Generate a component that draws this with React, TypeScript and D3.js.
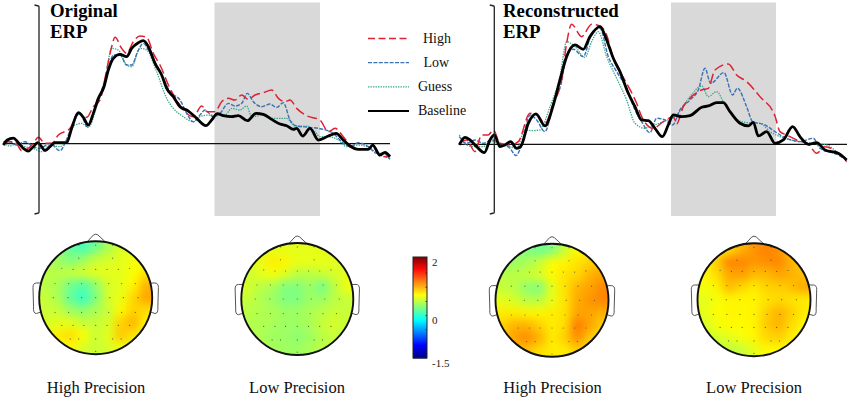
import React from "react";
import * as d3 from "d3";

type P = [number, number];

const originalBaseline: P[] = [[-107,-4],[-95,11],[-77,17],[-62,3],[-47,-14],[-32,-22],[-17,-9],[-4,3],[8,-9],[18,-21],[33,-9],[48,3],[68,3],[83,3],[98,46],[118,93],[133,79],[148,56],[163,91],[178,136],[195,171],[208,221],[223,256],[243,268],[263,261],[278,286],[298,303],[313,309],[328,291],[348,241],[368,206],[383,166],[403,141],[423,111],[448,98],[473,76],[501,54],[518,71],[535,90],[553,84],[578,81],[598,84],[625,69],[651,91],[673,88],[698,73],[723,59],[743,54],[763,43],[773,46],[791,23],[813,46],[838,11],[868,23],[891,31],[913,11],[933,-7],[958,-17],[988,-17],[1001,-4],[1023,-34],[1038,-26],[1053,-39]];
const originalHigh: P[] = [[-107,-4],[-92,6],[-72,6],[-52,-21],[-32,-14],[-17,1],[-2,19],[18,1],[38,1],[58,26],[93,46],[118,91],[143,79],[163,111],[183,131],[203,221],[218,291],[228,319],[248,286],[263,271],[283,306],[303,323],[323,319],[343,271],[363,236],[393,166],[413,131],[438,96],[463,81],[488,113],[505,96],[528,96],[548,126],[568,136],[588,131],[608,146],[628,133],[648,146],[673,153],[698,161],[718,136],[738,126],[753,131],[773,106],[803,84],[843,71],[868,36],[888,46],[913,21],[933,-4],[958,-17],[988,-14],[1001,-9],[1023,-37],[1053,-39]];
const originalLow: P[] = [[-107,6],[-87,6],[-67,-4],[-42,6],[-17,-9],[3,-14],[33,1],[63,-21],[78,1],[98,51],[123,91],[145,51],[168,106],[193,176],[208,226],[223,266],[243,266],[263,236],[278,236],[298,281],[313,301],[328,281],[353,236],[373,196],[393,156],[423,131],[443,91],[463,66],[483,86],[498,101],[523,81],[543,91],[568,121],[588,113],[608,121],[625,151],[643,126],[668,111],[693,119],[713,109],[733,123],[753,71],[773,53],[813,49],[853,43],[883,31],[903,11],[933,-9],[958,3],[988,-9],[1013,-29],[1033,-29],[1053,-47]];
const originalGuess: P[] = [[-107,1],[-87,-7],[-67,1],[-42,-9],[-17,-14],[8,-24],[33,-4],[63,-9],[83,11],[108,56],[128,61],[148,49],[173,111],[198,191],[218,286],[238,281],[263,236],[278,231],[303,286],[323,281],[353,216],[383,136],[403,106],[433,81],[463,66],[483,81],[508,86],[533,86],[558,86],[578,106],[603,101],[623,113],[638,81],[673,86],[703,76],[743,76],[768,53],[803,53],[828,36],[843,21],[868,21],[898,11],[923,-9],[958,-4],[988,-11],[1023,-34],[1053,-44]];

const reconBaseline: P[] = [[-105,-2],[-88,21],[-73,13],[-53,-7],[-30,-25],[-13,13],[0,28],[17,-7],[32,-2],[49,8],[67,-12],[79,-7],[102,63],[125,91],[152,55],[177,118],[197,193],[217,263],[242,298],[267,285],[287,323],[317,353],[337,313],[357,258],[377,218],[402,153],[422,113],[442,73],[462,71],[482,48],[504,23],[522,58],[537,88],[562,83],[587,86],[622,111],[642,115],[667,125],[687,125],[707,98],[737,63],[762,55],[777,66],[792,25],[817,38],[842,3],[867,13],[895,53],[917,23],[942,0],[967,5],[992,-17],[1032,-27],[1057,-47]];
const reconHigh: P[] = [[-105,3],[-83,13],[-58,-22],[-38,28],[-18,28],[-3,43],[17,3],[47,-2],[72,8],[107,93],[127,88],[152,63],[177,123],[202,193],[217,303],[232,360],[262,323],[292,360],[317,355],[337,328],[357,258],[397,183],[427,123],[442,83],[477,48],[507,68],[537,83],[547,61],[567,113],[587,138],[622,163],[642,168],[662,223],[702,241],[727,208],[757,188],[797,143],[842,85],[857,38],[877,28],[907,13],[942,1],[967,-27],[992,-7],[1032,-27],[1057,-52]];
const reconLow: P[] = [[-105,23],[-83,3],[-58,13],[-33,3],[-8,13],[17,3],[47,-12],[65,-34],[82,-2],[107,88],[127,73],[152,38],[177,123],[202,188],[217,268],[237,285],[267,263],[292,333],[317,348],[342,263],[367,218],[397,168],[422,103],[442,68],[467,35],[487,78],[512,73],[535,58],[557,103],[587,133],[612,163],[632,228],[649,183],[689,215],[715,148],[729,168],[757,113],[775,68],[812,58],[842,38],[877,18],[917,8],[957,18],[977,-12],[1032,-32],[1057,-47]];
const reconGuess: P[] = [[-105,28],[-83,-2],[-58,-7],[-33,-7],[-8,8],[17,3],[47,-7],[67,-12],[92,43],[112,41],[137,43],[167,113],[197,203],[217,308],[242,293],[272,261],[292,308],[312,338],[337,263],[367,198],[397,133],[422,63],[452,48],[467,53],[507,68],[547,88],[587,143],[622,175],[642,143],[667,158],[692,118],[727,75],[757,65],[797,63],[827,38],[857,23],[917,8],[957,3],[997,-2],[1032,-27],[1057,-47]];

const legendLabels = ["High", "Low", "Guess", "Baseline"];
const mapLabels = ["High Precision", "Low Precision", "High Precision", "Low Precision"];
const colorTicks = [2, 0, -1.5];

const mapOriginalHigh = [
  [.35,.3,.15,.05,.2,.4,.55,.6,.6],
  [.4,.35,.25,.35,.5,.55,.6,.65,.65],
  [.45,.45,.5,.55,.6,.6,.6,.68,.78],
  [.45,.4,.2,.1,.3,.55,.6,.72,.95],
  [.5,.4,.15,.0,.25,.55,.62,.82,1.0],
  [.5,.5,.35,.3,.4,.5,.7,.85,.8],
  [.55,.6,.6,.5,.5,.55,.85,.95,.72],
  [.6,.75,.8,.68,.5,.6,.88,.78,.6],
  [.55,.65,.7,.55,.5,.55,.65,.55,.5],
];
const mapOriginalLow = [
  [.55,.6,.6,.6,.6,.6,.6,.55,.55],
  [.55,.62,.75,.72,.62,.62,.62,.6,.55],
  [.5,.6,.65,.58,.45,.45,.5,.55,.6],
  [.55,.45,.4,.25,.25,.35,.2,.45,.65],
  [.5,.42,.35,.25,.25,.35,.35,.45,.5],
  [.45,.42,.4,.35,.35,.4,.45,.5,.5],
  [.42,.42,.4,.35,.35,.4,.5,.55,.5],
  [.42,.42,.35,.35,.3,.35,.45,.5,.45],
  [.42,.42,.4,.35,.35,.4,.45,.45,.45],
];
const mapReconHigh = [
  [.3,.3,.25,.2,.25,.5,.7,.75,.8],
  [.35,.35,.4,.5,.7,.72,.78,.85,.9],
  [.45,.45,.5,.55,.7,.78,.82,.95,1],
  [.5,.45,.3,.25,.6,.78,.95,1,1.1],
  [.6,.55,.45,.45,.62,.78,.98,1.05,1.1],
  [.75,.75,.72,.72,.75,.78,1,1,.95],
  [.85,.95,.95,.85,.75,.8,1.15,1,.85],
  [.85,1.02,1.08,.95,.75,.85,1.08,.88,.75],
  [.8,.9,.9,.8,.75,.75,.85,.75,.7],
];
const mapReconLow = [
  [.7,.75,.8,.95,1.05,1.12,1.05,.9,.8],
  [.72,.85,1.12,1.1,1.05,1.08,1.1,.95,.85],
  [.7,.8,.98,1.02,.92,.92,1,.95,.9],
  [.65,.72,.92,.82,.75,.85,.85,.9,1],
  [.6,.65,.72,.72,.72,.78,.82,.78,.75],
  [.6,.68,.72,.72,.72,.85,.95,.85,.75],
  [.55,.65,.7,.7,.72,.88,.95,.8,.7],
  [.45,.55,.6,.65,.72,.82,.85,.75,.65],
  [.4,.45,.45,.5,.6,.7,.7,.65,.6],
];

const electrodes: P[] = [
  [-.3,-.93],[0,-.93],[.3,-.93],[-.3,-.7],[.3,-.7],
  [-.6,-.52],[-.4,-.5],[-.21,-.5],[0,-.5],[.2,-.5],[.4,-.5],[.6,-.52],
  [-.72,-.25],[-.48,-.25],[-.25,-.25],[0,-.25],[.23,-.25],[.46,-.25],[.7,-.25],
  [-.75,0],[-.49,0],[-.25,0],[0,0],[.25,0],[.49,0],[.75,0],
  [-.72,.26],[-.48,.26],[-.25,.26],[0,.26],[.23,.26],[.46,.26],[.7,.26],
  [-.6,.49],[-.4,.49],[-.21,.49],[0,.49],[.2,.49],[.4,.49],[.6,.49],
  [-.45,.73],[-.3,.73],[0,.73],[.3,.73],[.45,.73],[-.3,.95],[0,.95],[.3,.95],
];

const jet = d3
  .scaleLinear<string>()
  .domain([0, 0.125, 0.375, 0.625, 0.875, 1])
  .range(["#00007f", "#0000ff", "#00ffff", "#ffff00", "#ff0000", "#7f0000"])
  .interpolate(d3.interpolateRgb);
const colorFraction = d3.scaleLinear().domain([-1.5, 2]).range([0, 1]);

const SERIF = "'Liberation Serif', serif";

const styles = {
  High: { stroke: "#dd2233", width: 1.5, dash: "10 4" },
  Low: { stroke: "#3a72b5", width: 1.4, dash: "4 1.4" },
  Guess: { stroke: "#38a88c", width: 1.3, dash: "1.4 1.1" },
  Baseline: { stroke: "#000", width: 2.8, dash: undefined as string | undefined },
};

function Erp(props: {
  axisX: number; zeroY: number; x0: number; x1: number; shade: [number, number];
  title: string; titleX: number;
  high: P[]; low: P[]; guess: P[]; base: P[];
}) {
  const { axisX, zeroY, x0, x1, shade, title, titleX, high, low, guess, base } = props;
  const x = d3.scaleLinear().domain([0, 1000]).range([axisX, axisX + 1000 / 3]);
  const y = d3.scaleLinear().domain([0, 300]).range([zeroY, zeroY - 100]);
  const line = d3.line<P>().x((d) => x(d[0])).y((d) => y(d[1])).curve(d3.curveMonotoneX);
  const series: [keyof typeof styles, P[]][] = [["Guess", guess], ["Low", low], ["High", high]];
  return (
    <g>
      <rect x={shade[0]} y={2.5} width={shade[1] - shade[0]} height={213.5} fill="#d9d9d9" />
      <line x1={x0} x2={x1} y1={zeroY} y2={zeroY} stroke="#111" strokeWidth={1.2} />
      {series.map(([n, d]) => (
        <path key={n} d={line(d) ?? ""} fill="none" stroke={styles[n].stroke} strokeWidth={styles[n].width} strokeDasharray={styles[n].dash} />
      ))}
      <path d={line(base) ?? ""} fill="none" stroke="#000" strokeWidth={styles.Baseline.width} strokeLinejoin="round" />
      <path d={`M${axisX - 4.5},5 L${axisX - 0.5},6 Q${axisX},6 ${axisX},7 L${axisX},212 Q${axisX},213 ${axisX - 0.5},213 L${axisX - 4.5},214`} fill="none" stroke="#222" strokeWidth={1.3} />
      <text x={titleX} y={17} fontFamily={SERIF} fontWeight={700} fontSize={18.8}>{title}</text>
      <text x={titleX} y={37.5} fontFamily={SERIF} fontWeight={700} fontSize={18.8}>ERP</text>
    </g>
  );
}

function Head(props: { id: string; cx: number; cy: number; r: number; values: number[][]; label: string; labelX: number }) {
  const { id, cx, cy, r, values, label, labelX } = props;
  const px = d3.scaleLinear().domain([-1, 1]).range([cx - r, cx + r]);
  const py = d3.scaleLinear().domain([-1, 1]).range([cy - r, cy + r]);
  const n = values.length;
  const step = 2 / n;
  const idx = d3.range(-3, n + 3);
  const clamp = (i: number) => Math.max(0, Math.min(n - 1, i));
  const ear = (s: number) =>
    `M${px(s * .97)},${py(-.26)} L${px(s * 1.05)},${py(-.26)} Q${px(s * 1.11)},${py(-.26)} ${px(s * 1.11)},${py(-.18)} L${px(s * 1.1)},${py(.16)} Q${px(s * 1.11)},${py(.28)} ${px(s * 1.05)},${py(.28)} L${px(s * .96)},${py(.25)}`;
  return (
    <g>
      <clipPath id={`clip-${id}`}><circle cx={cx} cy={cy} r={r} /></clipPath>
      <g clipPath={`url(#clip-${id})`}>
        <g filter="url(#soft)">
          {idx.map((row) =>
            idx.map((col) => (
              <rect
                key={`${row}-${col}`}
                x={px(-1 + col * step)}
                y={py(-1 + row * step)}
                width={px(step) - px(0) + 0.5}
                height={py(step) - py(0) + 0.5}
                fill={jet(colorFraction(values[clamp(row)][clamp(col)]))}
              />
            ))
          )}
        </g>
      </g>
      {electrodes.map(([a, b], i) => (
        <circle key={i} cx={px(a)} cy={py(b)} r={0.6} fill="#444" opacity={0.8} />
      ))}
      <path d={`M${px(-.16)},${py(-.98)} L${px(-.04)},${py(-1.11)} Q${px(0)},${py(-1.14)} ${px(.04)},${py(-1.11)} L${px(.18)},${py(-.98)}`} fill="none" stroke="#555" strokeWidth={1} />
      <path d={ear(-1)} fill="none" stroke="#555" strokeWidth={1} />
      <path d={ear(1)} fill="none" stroke="#555" strokeWidth={1} />
      <circle cx={cx} cy={cy} r={r} fill="none" stroke="#111" strokeWidth={1.9} />
      <text x={labelX} y={393} textAnchor="middle" fontFamily={SERIF} fontSize={16.5} fill="#111">{label}</text>
    </g>
  );
}

export default function App() {
  const legendY = d3.scalePoint<string>().domain(legendLabels).range([38.5, 111]);
  const legendTextX: Record<string, number> = { High: 423, Low: 423.5, Guess: 418, Baseline: 418 };
  const barY = d3.scaleLinear().domain([0, 1]).range([358, 257]);
  const tickY: Record<string, number> = { "2": 266, "0": 324, "-1.5": 367 };
  const barSteps = d3.range(0, 1, 0.01);
  return (
    <svg width={850} height={398} viewBox="0 0 850 398" style={{ position: "absolute", left: 0, top: 0, background: "#fff" }}>
      <defs>
        <filter id="soft" x="-5%" y="-5%" width="110%" height="110%" colorInterpolationFilters="sRGB">
          <feGaussianBlur stdDeviation={5} />
        </filter>
      </defs>
      <Erp axisX={39} zeroY={143.7} x0={3} x1={390} shade={[214.5, 320]} title="Original" titleX={50} high={originalHigh} low={originalLow} guess={originalGuess} base={originalBaseline} />
      <Erp axisX={494.3} zeroY={144.3} x0={459} x1={847} shade={[671, 776]} title="Reconstructed" titleX={503} high={reconHigh} low={reconLow} guess={reconGuess} base={reconBaseline} />

      {legendLabels.map((n) => {
        const s = styles[n as keyof typeof styles];
        const yy = legendY(n) as number;
        return (
          <g key={n}>
            <line x1={368} x2={409} y1={yy} y2={yy} stroke={s.stroke} strokeWidth={n === "Baseline" ? 1.8 : 1.3} strokeDasharray={n === "High" ? "7 3.5" : s.dash} />
            <text x={legendTextX[n]} y={yy + 4} fontFamily={SERIF} fontSize={14} fill="#111">{n}</text>
          </g>
        );
      })}

      <Head id="a" cx={95.7} cy={297.7} r={56.5} values={mapOriginalHigh} label={mapLabels[0]} labelX={96} />
      <Head id="b" cx={297.3} cy={299} r={56} values={mapOriginalLow} label={mapLabels[1]} labelX={297} />
      <Head id="c" cx={552} cy={300.3} r={56.5} values={mapReconHigh} label={mapLabels[2]} labelX={552.5} />
      <Head id="d" cx={754} cy={299.7} r={56.5} values={mapReconLow} label={mapLabels[3]} labelX={754} />

      {barSteps.map((f) => (
        <rect key={f} x={413} y={barY(f + 0.01)} width={14} height={barY(f) - barY(f + 0.01) + 0.5} fill={jet(f)} />
      ))}
      <rect x={413} y={257} width={14} height={101} fill="none" stroke="#222" strokeWidth={1} />
      {[0.14, 0.28, 0.42, 0.56, 0.7, 0.84].map((f) => (
        <line key={f} x1={425.5} x2={427} y1={barY(f)} y2={barY(f)} stroke="#222" strokeWidth={0.8} />
      ))}
      {colorTicks.map((t) => (
        <text key={t} x={432} y={tickY[String(t)]} fontFamily={SERIF} fontSize={11} fill="#222">{t}</text>
      ))}
    </svg>
  );
}
